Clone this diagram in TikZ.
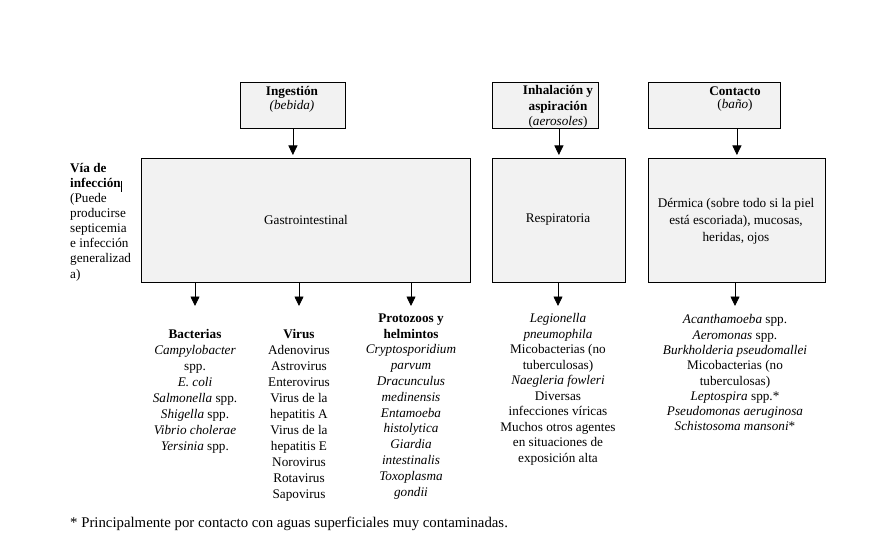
\documentclass[tikz,border=0pt]{standalone}
\usepackage{fontspec}
\setmainfont{Liberation Serif}
\usetikzlibrary{arrows.meta}
\definecolor{boxgray}{RGB}{242,242,242}
\begin{document}
\begin{tikzpicture}[x=1pt,y=-1pt,
  box/.style={draw=black, line width=0.8pt, fill=boxgray, anchor=north west, inner sep=0pt},
  txt/.style={font=\fontsize{13.2}{16}\selectfont, align=center, inner sep=0pt},
  conn/.style={draw=black, line width=0.8pt, -{Triangle[width=9pt,length=9.5pt]}, shorten >=3pt}
]
\useasboundingbox (0,0) rectangle (896,545);
\fill[white] (0,0) rectangle (896,545);

% top boxes
\node[box, minimum width=105pt, minimum height=46pt] (ing) at (240,82) {};
\node[box, minimum width=106pt, minimum height=46pt] (inh) at (492,82) {};
\node[box, minimum width=132pt, minimum height=46pt] (cont) at (648,82) {};

% middle boxes
\node[box, minimum width=329pt, minimum height=124pt] (gi) at (141,158) {};
\node[box, minimum width=133pt, minimum height=124pt] (resp) at (492,158) {};
\node[box, minimum width=177pt, minimum height=124pt] (derm) at (648,158) {};

% header texts
\node[txt, font=\fontsize{13.2}{13.5}\selectfont, anchor=north] (tIng) at (292,86.5)
  {\textbf{Ingestión}\\\textit{(bebida)}};
\node[txt, font=\fontsize{13.2}{15.5}\selectfont, anchor=north] (tInh) at (558,85.5)
  {\textbf{Inhalación y}\\\textbf{aspiración}\\(\textit{aerosoles})};
\node[txt, font=\fontsize{13.2}{13.5}\selectfont, anchor=north] (tCont) at (735,86.5)
  {\textbf{Contacto}\\(\textit{baño})};

% via de infeccion
\node[txt, align=left, anchor=north west, font=\fontsize{13.2}{15.1}\selectfont] (via) at (70,163)
  {\textbf{Vía de}\\\textbf{infección}\\(Puede\\producirse\\septicemia\\e infección\\generalizad\\a)};
\draw[line width=0.8pt] (121.5,181) -- (121.5,192);

% middle texts
\node[txt] (tGi) at (306,220) {Gastrointestinal};
\node[txt] (tResp) at (558,220) {Respiratoria};
\node[txt, font=\fontsize{13.2}{16.7}\selectfont] (tDerm) at (736,221.5)
  {Dérmica (sobre todo si la piel\\está escoriada), mucosas,\\heridas, ojos};

% arrows top -> middle
\draw[conn] (ing.south) -- (ing.south |- gi.north);
\draw[conn] (resp.north |- inh.south) -- (resp.north);
\draw[conn] (derm.north |- cont.south) -- (derm.north);

% lower lists
\node[txt, anchor=north] (bact) at (195,329.5)
  {\textbf{Bacterias}\\\textit{Campylobacter}\\spp.\\\textit{E. coli}\\\textit{Salmonella} spp.\\\textit{Shigella} spp.\\\textit{Vibrio cholerae}\\\textit{Yersinia} spp.};
\node[txt, anchor=north] (vir) at (299,329.5)
  {\textbf{Virus}\\Adenovirus\\Astrovirus\\Enterovirus\\Virus de la\\hepatitis A\\Virus de la\\hepatitis E\\Norovirus\\Rotavirus\\Sapovirus};
\node[txt, anchor=north, font=\fontsize{13.2}{15.8}\selectfont] (prot) at (411,313.5)
  {\textbf{Protozoos y}\\\textbf{helmintos}\\\textit{Cryptosporidium}\\\textit{parvum}\\\textit{Dracunculus}\\\textit{medinensis}\\\textit{Entamoeba}\\\textit{histolytica}\\\textit{Giardia}\\\textit{intestinalis}\\\textit{Toxoplasma}\\\textit{gondii}};
\node[txt, anchor=north, font=\fontsize{13.2}{15.5}\selectfont] (lresp) at (558,313.5)
  {\textit{Legionella}\\\textit{pneumophila}\\Micobacterias (no\\tuberculosas)\\\textit{Naegleria fowleri}\\Diversas\\infecciones víricas\\Muchos otros agentes\\en situaciones de\\exposición alta};
\node[txt, anchor=north, font=\fontsize{13.2}{15.3}\selectfont] (lderm) at (735,314.5)
  {\textit{Acanthamoeba} spp.\\\textit{Aeromonas} spp.\\\textit{Burkholderia pseudomallei}\\Micobacterias (no\\tuberculosas)\\\textit{Leptospira} spp.*\\\textit{Pseudomonas aeruginosa}\\\textit{Schistosoma mansoni}*};

% arrows middle -> lists
\coordinate (aB) at (195,309);
\coordinate (aV) at (299,309);
\coordinate (aP) at (411,309);
\coordinate (aR) at (558,309);
\coordinate (aD) at (735,309);
\draw[conn] (gi.south -| aB) -- (aB);
\draw[conn] (gi.south -| aV) -- (aV);
\draw[conn] (gi.south -| aP) -- (aP);
\draw[conn] (resp.south -| aR) -- (aR);
\draw[conn] (derm.south -| aD) -- (aD);

% footnote
\node[txt, anchor=west, font=\fontsize{14.8}{16}\selectfont] (foot) at (70,524)
  {* Principalmente por contacto con aguas superficiales muy contaminadas.};
\end{tikzpicture}
\end{document}
